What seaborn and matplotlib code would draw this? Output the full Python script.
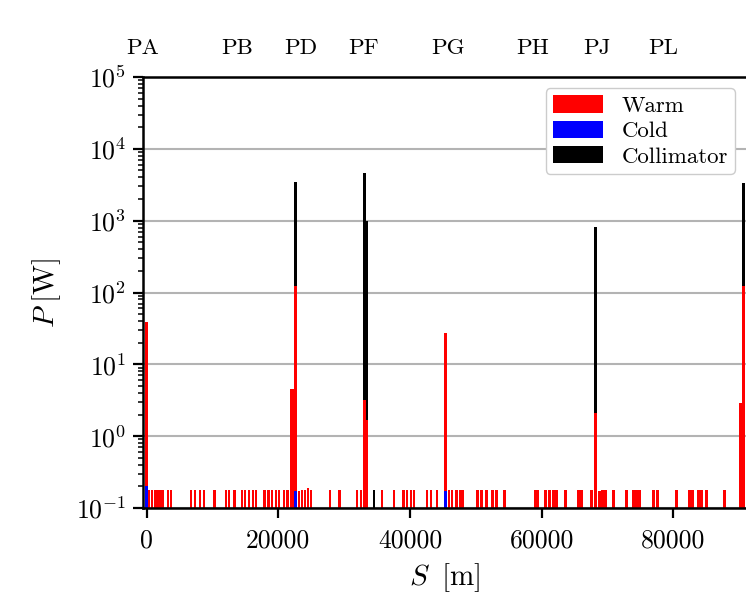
import numpy as np
import pandas as pd
import matplotlib
matplotlib.use("Agg")
import matplotlib.pyplot as plt
from matplotlib.patches import Patch
import seaborn as sns

# ---------------- data ----------------
warm_s = [0, 300, 800, 1300, 1750, 2200, 2500, 3250, 3700, 6750, 7350, 8100, 8700,
          10250, 12050, 12500, 13300, 14500, 14950, 15550, 16150, 16600, 17850, 18450,
          19050, 19650, 20100, 20850, 21350, 22000, 22300, 22620, 23150, 23600, 24060,
          24510, 24970, 27850, 29240, 31960, 32570, 33100, 33480, 35760, 37580, 38950,
          39550, 40160, 40620, 42590, 43200, 44110, 45400, 45930, 46390, 47000, 47610,
          48060, 50190, 50800, 51560, 52470, 53080, 54290, 59000, 59450, 60520, 61130,
          61740, 62200, 63560, 65540, 65990, 67510, 68120, 68730, 69180, 69640, 70860,
          72830, 73900, 74350, 74810, 76930, 77530, 80420, 82400, 82850, 83760, 84220,
          84980, 87720, 90210, 90670]
warm_p = [39, 0.18, 0.18, 0.18, 0.18, 0.18, 0.18, 0.18, 0.18, 0.18, 0.18, 0.18, 0.18,
          0.18, 0.18, 0.18, 0.18, 0.18, 0.18, 0.18, 0.18, 0.18, 0.18, 0.18,
          0.18, 0.18, 0.18, 0.18, 0.18, 4.5, 4.6, 125, 0.17, 0.18, 0.18,
          0.19, 0.18, 0.18, 0.18, 0.18, 0.18, 3.2, 1.7, 0.18, 0.18, 0.18,
          0.18, 0.18, 0.18, 0.18, 0.18, 0.18, 27, 0.18, 0.18, 0.18, 0.18,
          0.18, 0.18, 0.18, 0.18, 0.18, 0.18, 0.18, 0.18, 0.18, 0.18, 0.18,
          0.18, 0.18, 0.18, 0.18, 0.18, 0.18, 2.1, 0.17, 0.18, 0.18, 0.18,
          0.18, 0.18, 0.18, 0.18, 0.18, 0.18, 0.18, 0.18, 0.18, 0.18, 0.18,
          0.18, 0.18, 2.9, 125]
cold_s = [0, 22620, 45400]
cold_p = [0.2, 0.17, 0.17]
coll_s = [22620, 33100, 33480, 34540, 68120, 90670]
coll_p = [3500, 4600, 1000, 0.18, 810, 3300]

categories = ["Warm", "Cold", "Collimator"]
colors = {"Warm": "#ff0000", "Cold": "#0000ff", "Collimator": "#000000"}

xtick_vals = [0, 20000, 40000, 60000, 80000]
xtick_labels = ["0", "20000", "40000", "60000", "80000"]
point_names = ["PA", "PB", "PD", "PF", "PG", "PH", "PJ", "PL"]
point_s = [-1830, 12650, 22400, 32090, 45120, 58160, 67990, 78200]

df = pd.DataFrame({
    "S": warm_s + cold_s + coll_s,
    "P": warm_p + cold_p + coll_p,
    "type": ["Warm"] * len(warm_s) + ["Cold"] * len(cold_s) + ["Collimator"] * len(coll_s),
})

# ---------------- style ----------------
sns.set_theme(style="ticks")
plt.rcParams.update({
    "font.family": ["cmr10", "DejaVu Serif"],
    "mathtext.fontset": "cm",
    "axes.formatter.use_mathtext": True,
    "axes.unicode_minus": False,
    "axes.linewidth": 1.8,
    "axes.edgecolor": "black",
    "axes.labelcolor": "black",
    "text.color": "black",
    "xtick.major.width": 1.6,
    "ytick.major.width": 1.6,
    "ytick.minor.width": 1.1,
    "xtick.major.size": 7,
    "ytick.major.size": 7,
    "ytick.minor.size": 3.5,
    "xtick.color": "black",
    "ytick.color": "black",
    "xtick.labelcolor": "black",
    "ytick.labelcolor": "black",
})

fig = plt.figure(figsize=(7.46, 5.95), dpi=100)
ax = fig.add_axes([0.1917, 0.1462, 0.8083, 0.7244])

min_gap = np.diff(np.unique(df["S"])).min()
sns.barplot(data=df, x="S", y="P", hue="type",
            hue_order=["Collimator", "Warm", "Cold"], palette=colors,
            native_scale=True, dodge=False, errorbar=None, saturation=1,
            width=420 / min_gap, linewidth=0, legend=False, ax=ax)

ax.set_yscale("log")
ax.set_ylim(0.1, 1e5)
ax.set_xlim(-550, 91020)
ax.set_xticks(xtick_vals, labels=xtick_labels)
ax.tick_params(axis="both", which="major", labelsize=18.5, direction="out", pad=5)
ax.tick_params(axis="x", which="major", pad=8)
ax.tick_params(axis="x", which="minor", bottom=False)
ax.yaxis.grid(True, which="major", color="#b3b3b3", linewidth=1.5)
ax.xaxis.grid(False)
ax.set_axisbelow(True)
ax.spines["right"].set_visible(False)
ax.spines["top"].set_visible(True)

ax.set_xlabel(r"$S\;\;[\mathrm{m}]$", fontsize=21, labelpad=6)
ax.set_ylabel(r"$P\;[\mathrm{W}]$", fontsize=21, labelpad=9)

handles = [Patch(facecolor=colors[c], edgecolor="none", label=c) for c in categories]
ax.legend(handles=handles, loc="upper right", fontsize=16.5, frameon=True,
          edgecolor="#cccccc", framealpha=1, fancybox=True,
          handlelength=2.2, handleheight=0.8, borderpad=0.3,
          labelspacing=0.2, handletextpad=0.8)

ax2 = ax.twiny()
ax2.set_xlim(ax.get_xlim())
ax2.set_xticks(point_s, labels=point_names)
ax2.tick_params(axis="x", which="both", length=0, labelsize=16.5, pad=14,
                labelcolor="black")
for sp in ax2.spines.values():
    sp.set_visible(False)

fig.savefig("out.png", dpi=100)
